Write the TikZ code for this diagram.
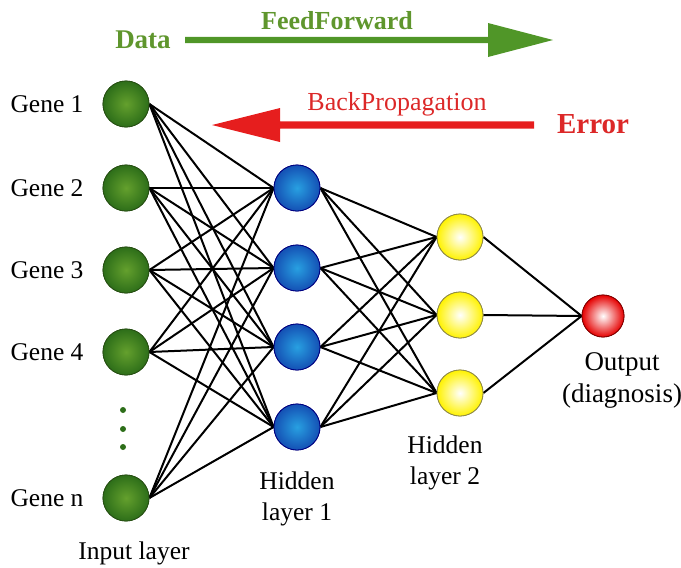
\documentclass[tikz,border=0pt]{standalone}
\usepackage{fontspec}
\setmainfont{Liberation Serif}
\definecolor{ffgreen}{RGB}{95,150,45}
\definecolor{arrgreen}{RGB}{80,150,40}
\definecolor{bpred}{RGB}{220,40,40}
\definecolor{arrred}{RGB}{230,30,30}
\definecolor{gin}{RGB}{100,160,45}
\definecolor{gout}{RGB}{45,110,25}
\definecolor{gedge}{RGB}{40,80,20}
\definecolor{bin}{RGB}{40,160,225}
\definecolor{bout}{RGB}{20,80,180}
\tikzset{
  neuron/.style={circle, minimum size=46pt, inner sep=0pt, line width=0.8pt},
  inneur/.style={neuron, draw=gedge, inner color=gin, outer color=gout},
  h1neur/.style={neuron, draw=blue!50!black, inner color=bin, outer color=bout},
  h2neur/.style={neuron, draw=yellow!50!black, inner color=white, outer color=yellow!90!orange},
  outneur/.style={neuron, minimum size=42pt, draw=red!50!black, inner color=white, outer color=red!90!black},
  lbl/.style={font=\fontsize{25.5}{31}\selectfont, align=center},
  conn/.style={line width=2pt, black},
  dotn/.style={circle, fill=gout, minimum size=6pt, inner sep=0pt}
}
\begin{document}
\begin{tikzpicture}[x=1pt, y=-1pt]
\useasboundingbox (0,0) rectangle (681,568);
% input layer
\node[inneur] (i1) at (126,104) {};
\node[inneur] (i2) at (126,188) {};
\node[inneur] (i3) at (126,270) {};
\node[inneur] (i4) at (126,352) {};
\node[inneur] (i5) at (126,498) {};
\node[dotn] (d1) at (123,410) {};
\node[dotn] (d2) at (123,429) {};
\node[dotn] (d3) at (123,447) {};
% hidden 1
\node[h1neur] (a1) at (297,188) {};
\node[h1neur] (a2) at (297,268) {};
\node[h1neur] (a3) at (297,347) {};
\node[h1neur] (a4) at (297,427) {};
% hidden 2
\node[h2neur] (b1) at (460,237) {};
\node[h2neur] (b2) at (460,315) {};
\node[h2neur] (b3) at (460,393) {};
% output
\node[outneur] (o) at (603,316) {};
% connections
\foreach \i in {i1,i2,i3,i4,i5}{
  \foreach \a in {a1,a2,a3,a4}{
    \draw[conn] (\i.east) -- (\a.west);
  }
}
\foreach \a in {a1,a2,a3,a4}{
  \foreach \b in {b1,b2,b3}{
    \draw[conn] (\a.east) -- (\b.west);
  }
}
\foreach \b in {b1,b2,b3}{
  \draw[conn] (\b.east) -- (o.west);
}
% redraw nodes over lines
\node[inneur] at (i1) {};
\node[inneur] at (i2) {};
\node[inneur] at (i3) {};
\node[inneur] at (i4) {};
\node[inneur] at (i5) {};
\node[h1neur] at (a1) {};
\node[h1neur] at (a2) {};
\node[h1neur] at (a3) {};
\node[h1neur] at (a4) {};
\node[h2neur] at (b1) {};
\node[h2neur] at (b2) {};
\node[h2neur] at (b3) {};
\node[outneur] at (o) {};
% labels
\node[lbl] (g1) at (47,104) {Gene 1};
\node[lbl] (g2) at (47,188) {Gene 2};
\node[lbl] (g3) at (47,270) {Gene 3};
\node[lbl] (g4) at (47,352) {Gene 4};
\node[lbl] (gn) at (47,498) {Gene n};
\node[lbl] (il) at (134,553) {Input layer};
\node[lbl] (h1l) at (297,499) {Hidden\\layer 1};
\node[lbl] (h2l) at (445,463) {Hidden\\layer 2};
\node[lbl, font=\fontsize{27}{32}\selectfont] (ol) at (622,380) {Output\\(diagnosis)};
% top arrows
\node[lbl, font=\fontsize{27}{30}\selectfont\bfseries, text=ffgreen] (data) at (143,40) {Data};
\node[lbl, font=\fontsize{26}{30}\selectfont\bfseries, text=ffgreen] (ff) at (337,21) {FeedForward};
\coordinate (fs) at (185,40);
\coordinate (fe) at (553,40);
\fill[arrgreen] (fs) ++(0,-3.2) -- (488,36.8) -- (488,23) -- (fe) -- (488,57) -- (488,43.2) -- (185,43.2) -- cycle;
\node[lbl, font=\fontsize{29}{30}\selectfont\bfseries, text=bpred] (err) at (593,124) {Error};
\node[lbl, font=\fontsize{26}{30}\selectfont, text=bpred] (bp) at (397,104) {BackPropagation};
\coordinate (rs) at (534,125);
\coordinate (re) at (212,125);
\fill[arrred] (rs) ++(0,-3.6) -- (280,121.4) -- (280,108) -- (re) -- (280,142) -- (280,128.6) -- (534,128.6) -- cycle;
\end{tikzpicture}
\end{document}
